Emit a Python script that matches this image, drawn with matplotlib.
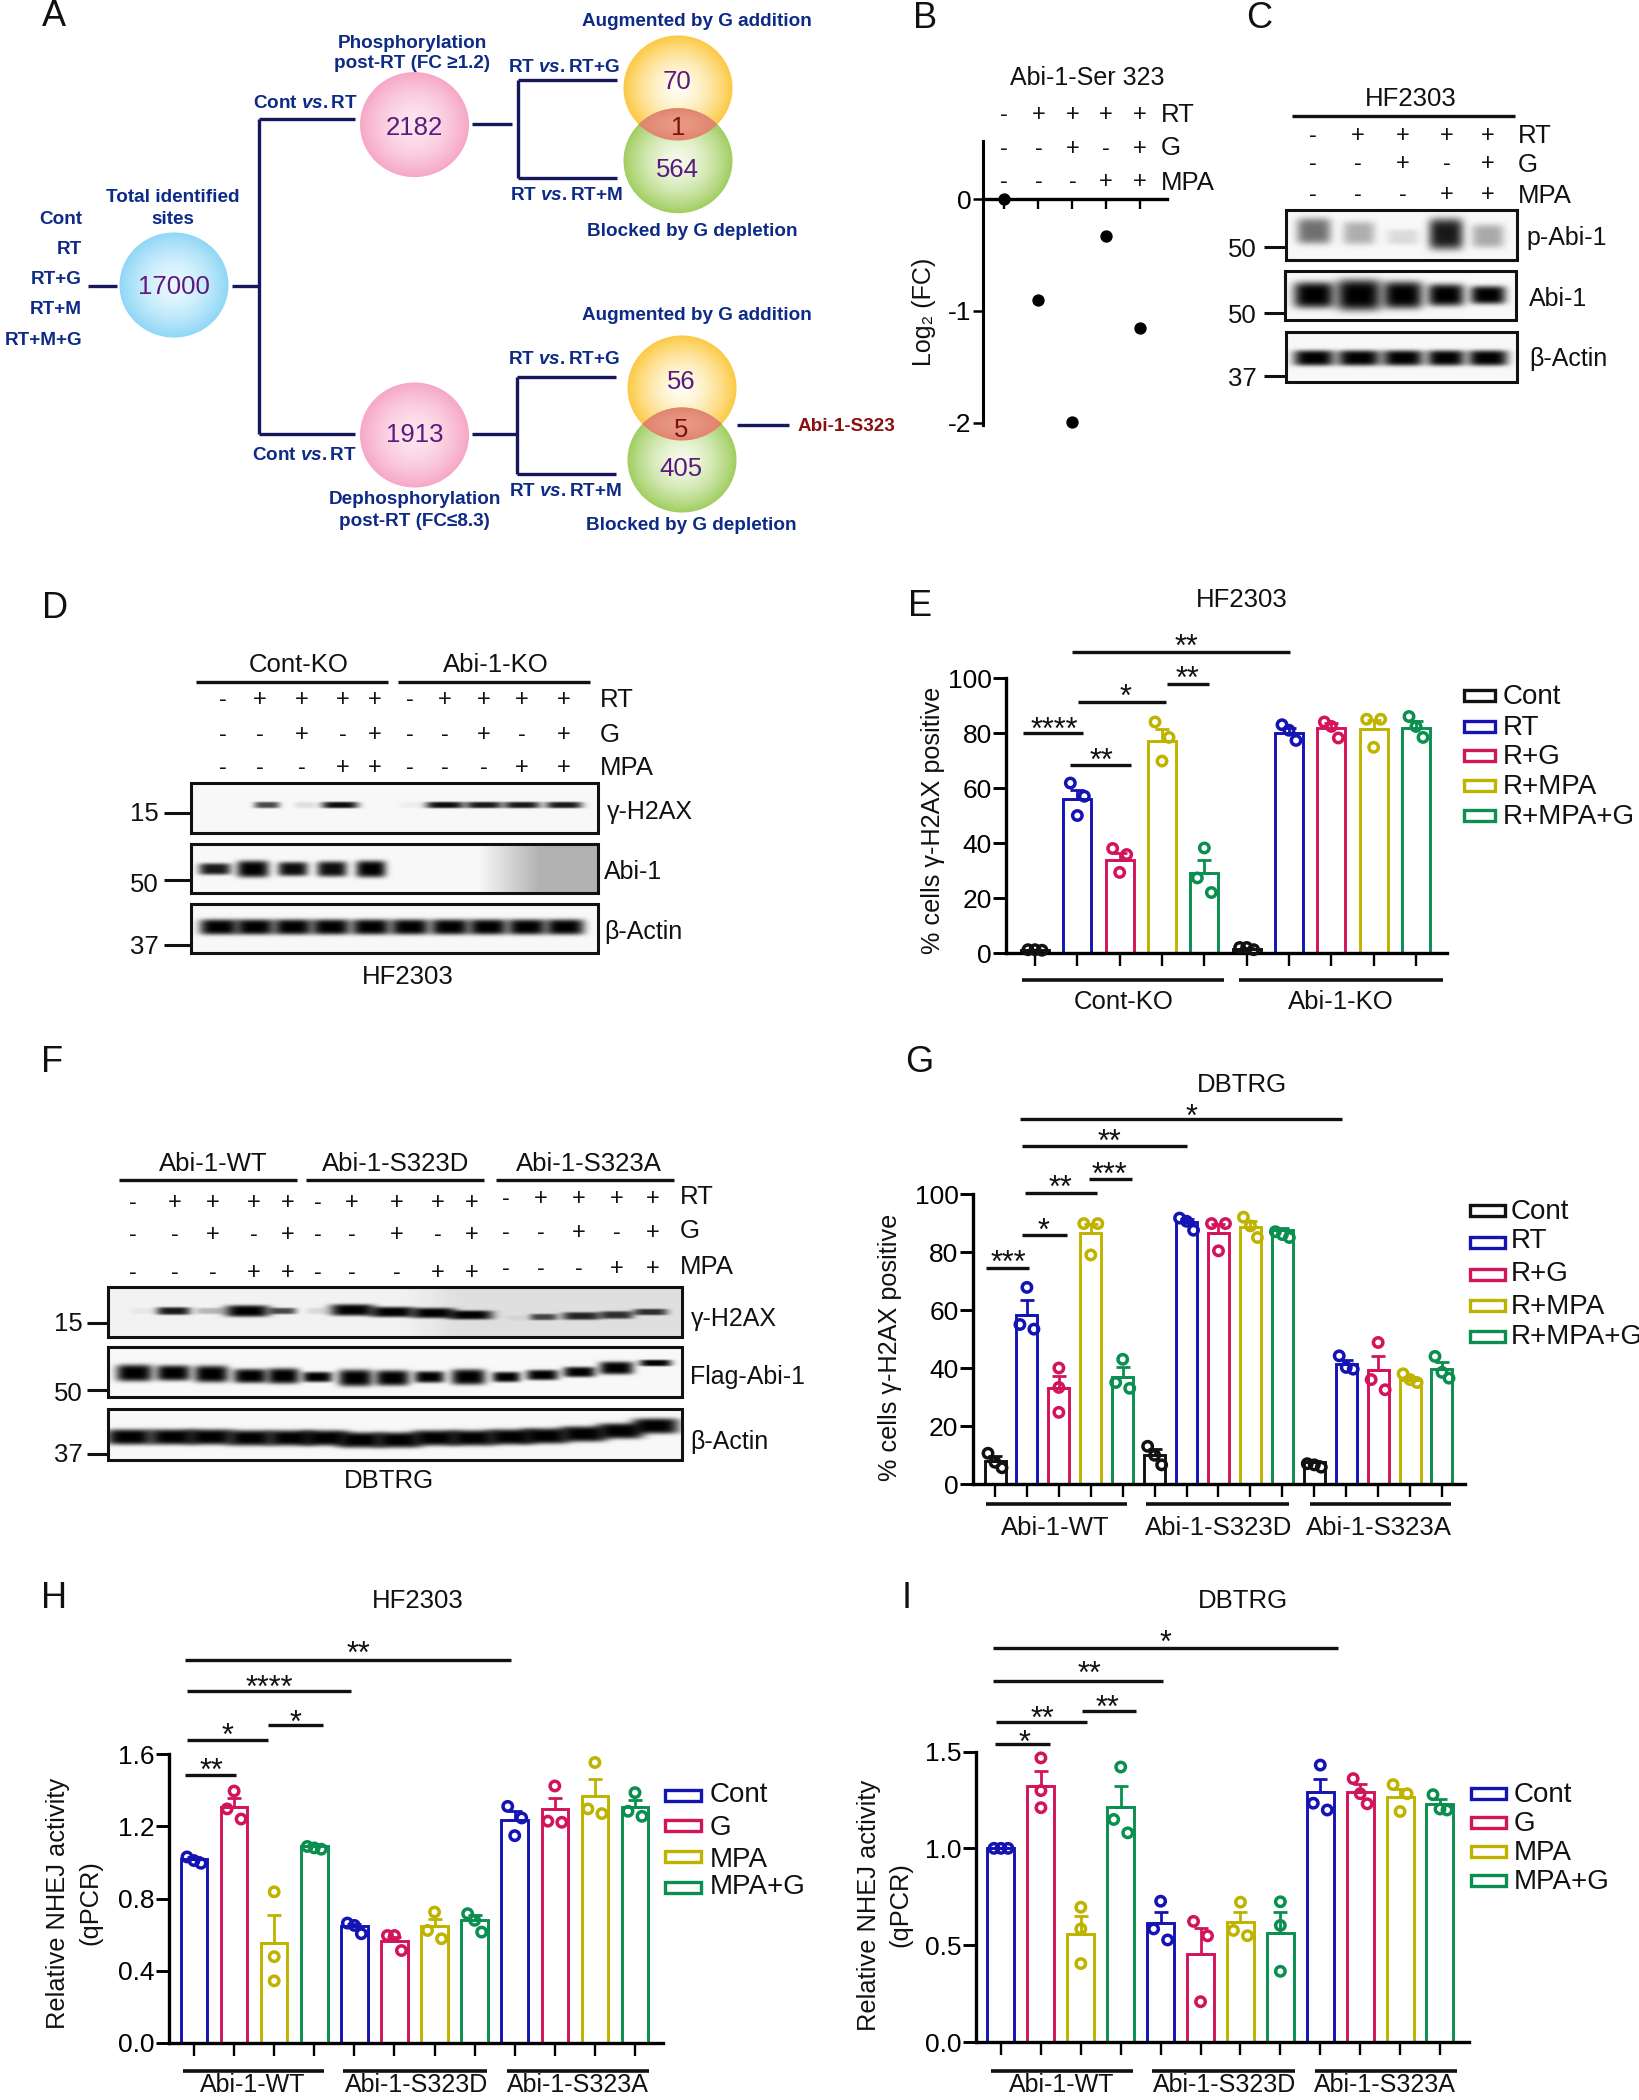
#!/usr/bin/env python
import matplotlib
matplotlib.use("Agg")
import matplotlib.pyplot as plt
import numpy as np
from matplotlib import font_manager
from matplotlib.colors import to_rgb
from matplotlib.patches import Rectangle

W, H = 1639, 2100

names = {f.name for f in font_manager.fontManager.ttflist}
NARROW = "Liberation Sans Narrow" if "Liberation Sans Narrow" in names else "Liberation Sans"

plt.rcParams["font.family"] = ["Liberation Sans", "DejaVu Sans"]
plt.rcParams["mathtext.fontset"] = "custom"
plt.rcParams["mathtext.it"] = f"{NARROW}:italic:bold"
plt.rcParams["mathtext.rm"] = f"{NARROW}:bold"

BLACK = "#111111"
BLUE = "#1414b4"
RED = "#d2145a"
OLIVE = "#bfb300"
GREEN = "#0a8f50"
NAVY = "#0d2a86"
PURPLE = "#5b1a80"
LINE = "#17175c"

# panel B
b_values = [0, -0.90, -1.99, -0.33, -1.15]

# treatment signs
rt_flags = [0, 1, 1, 1, 1]
g_flags = [0, 0, 1, 0, 1]
mpa_flags = [0, 0, 0, 1, 1]

# panel E
e_labels = ["Cont", "RT", "R+G", "R+MPA", "R+MPA+G"]
e_means = [1, 56, 34, 77, 29, 1.5, 80, 82, 81.5, 82]
e_sems = [0.2, 3.4, 2.5, 4.5, 5, 0.3, 1.7, 1.7, 3.3, 2.4]
e_points = [
    [1.2, 1.2, 1.0], [61.8, 57, 50], [38, 35.8, 29.3], [84, 78.4, 69.8], [38.2, 27.3, 22],
    [2, 2, 1.2], [83, 81, 77.3], [84, 82.4, 78.2], [85, 85, 74.8], [86, 82.4, 78.4],
]

# panel G
g_means = [8, 58.4, 33, 86.6, 37, 9.9, 90.3, 86.6, 88.7, 87.7, 7.5, 41.4, 39.2, 36, 39.6]
g_sems = [1.5, 5, 4.4, 3, 3.2, 2, 1, 3, 2, 0.6, 0.4, 1.4, 4.8, 0.8, 2.4]
g_points = [
    [10.6, 7.5, 5.6], [67.8, 55, 53.4], [40, 33.3, 24.7], [89.8, 89.8, 79], [43, 35, 33],
    [13, 9.9, 6.6], [91.7, 90.6, 87.5], [89.8, 89.8, 80.4], [92, 89, 85], [87, 86, 85],
    [7, 6.6, 5.8], [44.2, 40.2, 39.6], [48.8, 36, 32.5], [38, 36, 35], [44, 38.5, 36.5],
]

# panel H
nhej_labels = ["Cont", "G", "MPA", "MPA+G"]
h_means = [1.017, 1.308, 0.552, 1.088, 0.645, 0.567, 0.645, 0.679, 1.233, 1.293, 1.367, 1.308]
h_sems = [0.01, 0.05, 0.155, 0.01, 0.015, 0.02, 0.043, 0.03, 0.05, 0.065, 0.097, 0.04]
h_points = [
    [1.03, 1.01, 0.995], [1.395, 1.296, 1.24], [0.837, 0.478, 0.344], [1.088, 1.08, 1.073],
    [0.664, 0.651, 0.605], [0.595, 0.595, 0.512], [0.725, 0.623, 0.577], [0.716, 0.679, 0.614],
    [1.31, 1.246, 1.148], [1.423, 1.228, 1.222], [1.553, 1.296, 1.27], [1.386, 1.283, 1.255],
]

# panel I
i_means = [1.0, 1.324, 0.556, 1.212, 0.614, 0.455, 0.619, 0.565, 1.29, 1.29, 1.264, 1.23]
i_sems = [0.003, 0.075, 0.093, 0.108, 0.057, 0.133, 0.052, 0.106, 0.07, 0.04, 0.04, 0.027]
i_points = [
    [1.0, 1.0, 1.0], [1.467, 1.298, 1.21], [0.696, 0.584, 0.405], [1.42, 1.149, 1.08],
    [0.727, 0.584, 0.527], [0.623, 0.548, 0.208], [0.722, 0.576, 0.549], [0.724, 0.602, 0.365],
    [1.43, 1.233, 1.198], [1.36, 1.282, 1.23], [1.329, 1.282, 1.19], [1.277, 1.203, 1.198],
]

fig = plt.figure(figsize=(W / 100, H / 100), dpi=100, facecolor="white")
ov = fig.add_axes([0, 0, 1, 1], zorder=5)
ov.patch.set_visible(False)
ov.axis("off")


def txt(x, y, s, size=18, color=BLACK, ha="center", va="center", **kw):
    # page text sat a touch high against the reference
    if va == "center":
        y = y + 2
    return ov.text(x, y, s, fontsize=size, color=color, ha=ha, va=va, **kw)


def seg(x0, y0, x1, y1, lw=2.4, color=BLACK):
    ov.plot([x0, x1], [y0, y1], color=color, lw=lw, solid_capstyle="butt", solid_joinstyle="miter")


def star(x, y, s):
    txt(x, y + 18, s, size=22, va="baseline")


def sig_bars(rows):
    for x0, x1, y, sx, sy, s in rows:
        seg(x0, y, x1, y)
        star(sx, sy, s)


def signs(xs, ys, labels, label_x, label_ys, size=17):
    for flags, y in zip((rt_flags, g_flags, mpa_flags), ys):
        for f, x in zip(flags, xs):
            txt(x, y, "+" if f else "-", size=size)
    for lab, y in zip(labels, label_ys):
        txt(label_x, y, lab, size=18.5, ha="left")


def swarm(vals, ymax, px_h, sp, thr=16, spread=7):
    # spread points that sit close to each other, the way prism does it
    order = np.argsort(vals)[::-1]
    sorted_vals = np.asarray(vals)[order]
    out = np.zeros(len(vals))
    groups = [[0]]
    for k in range(1, len(vals)):
        if (sorted_vals[k - 1] - sorted_vals[k]) / ymax * px_h < thr:
            groups[-1].append(k)
        else:
            groups.append([k])
    for g in groups:
        if len(g) > 1:
            for j, k in enumerate(g):
                out[order[k]] = (-1 + 2 * j / (len(g) - 1)) * spread / sp
    return out


def bar_panel(box, first, last, barw, means, sems, points, colors, ymax, yticks, ticklabels):
    left, right, top, bottom = box
    ax = fig.add_axes([left / W, 1 - bottom / H, (right - left) / W, (bottom - top) / H])
    n = len(means)
    sp = (last - first) / (n - 1)
    xs = np.arange(n)
    ax.bar(xs, means, width=barw / sp, facecolor="white", edgecolor=colors, lw=2.1)
    for i in range(n):
        ax.errorbar(i, means[i], yerr=[[0], [sems[i]]], color=colors[i], lw=2.0, capsize=5, capthick=2.0)
        off = swarm(points[i], ymax, bottom - top, sp)
        ax.scatter(i + off, points[i], s=46, facecolors="none", edgecolors=colors[i], lw=2.5, zorder=4, clip_on=False)
    ax.set_xlim((left - first) / sp, (right - first) / sp)
    ax.set_ylim(0, ymax)
    ax.set_xticks(xs)
    ax.set_xticklabels([])
    ax.set_yticks(yticks)
    ax.set_yticklabels(ticklabels, fontsize=19)
    ax.tick_params(axis="y", length=9.5, width=2.1, pad=1)
    ax.tick_params(axis="x", length=9.5, width=1.7)
    for s in ("top", "right"):
        ax.spines[s].set_visible(False)
    for s in ("left", "bottom"):
        ax.spines[s].set_linewidth(2.4)
    ax.patch.set_visible(False)
    return ax


def legend(labels, colors, x0, x1, ys, text_x, text_ys=None):
    text_ys = ys if text_ys is None else text_ys
    for lab, c, y, ty in zip(labels, colors, ys, text_ys):
        ov.add_patch(Rectangle((x0, y - 5.5), x1 - x0, 11, fc="white", ec=c, lw=2.4))
        txt(text_x, ty, lab, size=20, ha="left")


def disc(cx, cy, rx, ry, edge, centre, other=None):
    # radial gradient, other=(cx, cy) keeps only the overlap with a second disc
    x0, x1 = int(cx - rx - 2), int(cx + rx + 3)
    y0, y1 = int(cy - ry - 2), int(cy + ry + 3)
    X, Y = np.meshgrid(np.arange(x0, x1) + 0.5, np.arange(y0, y1) + 0.5)
    r = np.hypot((X - cx) / rx, (Y - cy) / ry)
    alpha = np.clip((1 - r) * rx, 0, 1)
    if other is not None:
        r2 = np.hypot((X - other[0]) / rx, (Y - other[1]) / ry)
        alpha = alpha * np.clip((1 - r2) * rx, 0, 1)
        mx, my = (cx + other[0]) / 2, (cy + other[1]) / 2
        r = np.hypot((X - mx) / rx, (Y - my) / (ry * 0.45))
    t = np.clip(r, 0, 1)[..., None] ** 1.6
    rgb = np.array(to_rgb(centre)) * (1 - t) + np.array(to_rgb(edge)) * t
    ov.imshow(np.dstack([rgb, alpha]), extent=(x0, x1, y1, y0), aspect="auto", interpolation="bilinear", zorder=2)


def blot(box, xs, ys, widths, heights, inks, base=0.97, shade=None):
    x0, x1, y0, y1 = box
    X, Y = np.meshgrid(np.arange(x0, x1) + 0.5, np.arange(y0, y1) + 0.5)
    clear = np.ones_like(X, dtype=float)
    for cx, cy, w, h, ink in zip(*np.broadcast_arrays(xs, ys, widths, heights, inks)):
        clear *= 1 - ink * np.exp(-np.abs((X - cx) / (0.54 * w)) ** 4 - np.abs((Y - cy) / (0.65 * h)) ** 4)
    img = base * clear
    if shade is not None:
        img = img * (1 - shade[1] * np.clip((X - shade[0]) / 60, 0, 1))
    ov.imshow(img, extent=(x0, x1, y1, y0), cmap="gray", vmin=0, vmax=1, aspect="auto", interpolation="bilinear", zorder=1)
    ov.add_patch(Rectangle((x0, y0), x1 - x0, y1 - y0, fc="none", ec=BLACK, lw=2.2, zorder=3))


def marker(label, x_text, x0, x1, y_text, y):
    txt(x_text, y_text, label, size=18.5, ha="right")
    seg(x0, y, x1, y, lw=2.2)


# ---- panel letters
for s, x, y in [("A", 54, 14), ("B", 925, 16), ("C", 1259, 16), ("D", 55, 606), ("E", 920, 605),
                ("F", 52, 1060), ("G", 919, 1060), ("H", 54, 1597), ("I", 907, 1597)]:
    txt(x, y, s, size=26)

# ---- panel A
bold = dict(family=[NARROW, "Liberation Sans"], fontweight="bold")


def a_text(x, y, s, color=NAVY, size=13.6, ha="center"):
    txt(x, y, s, size=size, color=color, ha=ha, **bold)


disc(174, 285, 55, 53, "#8ed6f6", "#e8f8ff")
disc(414.5, 124.6, 55, 53, "#f6a6c6", "#fde6ef")
disc(414.5, 435, 55, 53, "#f6a6c6", "#fde6ef")
for cy1, cy2, cx in [(88, 160.7, 678), (388, 460, 682)]:
    disc(cx, cy1, 55, 53, "#fcc840", "#fffdf0")
    disc(cx, cy2, 55, 53, "#9fcd5e", "#f4fae8")
    disc(cx, cy1, 55, 53, "#dc6e5c", "#e89a84", other=(cx, cy2))

a_text(173, 195, "Total identified")
a_text(173, 217, "sites")
for s, y in zip(["Cont", "RT", "RT+G", "RT+M", "RT+M+G"], [217.5, 247, 278, 308, 338.5]):
    a_text(82, y, s, ha="right")
a_text(412, 42, "Phosphorylation")
a_text(412, 61, "post-RT (FC ≥1.2)")
a_text(414.5, 498, "Dephosphorylation")
a_text(414.5, 520, "post-RT (FC≤8.3)")
for x, y in [(305, 102), (304, 454)]:
    a_text(x, y, r"Cont $\mathit{vs.}$RT")
for x, y, s in [(564, 66, "RT+G"), (566, 194, "RT+M"), (564, 358, "RT+G"), (565, 489, "RT+M")]:
    a_text(x, y, r"RT $\mathit{vs.}$" + s)
for x, y in [(697, 20), (697, 313)]:
    a_text(x, y, "Augmented by G addition")
for x, y in [(692.6, 229), (691, 524)]:
    a_text(x, y, "Blocked by G depletion")
a_text(846, 424.5, "Abi-1-S323", color="#8a1010")
num = dict(size=18.5, zorder=6, family=[NARROW, "Liberation Sans"])
for x, y, s in [(174, 285, "17000"), (414.5, 126, "2182"), (414.5, 433, "1913"), (677, 80, "70"),
                (677, 168, "564"), (681, 380, "56"), (681, 467, "405")]:
    txt(x, y, s, color=PURPLE, **num)
txt(678, 126, "1", color="#7a1010", **num)
txt(681, 428, "5", color="#7a1010", **num)

for a in [(88, 286, 117, 286), (232, 286, 259, 286), (259, 119, 259, 434), (259, 119, 355, 119),
          (259, 434, 355, 434), (472, 123.5, 512, 123.5), (518, 80, 518, 178), (518, 80, 617, 80),
          (518, 178, 617, 178), (472, 434, 517, 434), (517, 376.5, 517, 474), (517, 376.5, 616, 376.5),
          (517, 474, 616, 474), (737, 425, 789, 425)]:
    seg(*a, lw=2.4, color=LINE)

# ---- panel B
ax = fig.add_axes([982.5 / W, 1 - 425 / H, 184 / W, 284 / H])
ax.scatter(range(5), b_values, s=62, color="black", clip_on=False, zorder=4)
ax.set_xlim((982.5 - 1004) / 34, (1166.5 - 1004) / 34)
ax.set_ylim(-2.018, 0.518)
ax.set_yticks([0, -1, -2])
ax.set_yticklabels(["0", "-1", "-2"], fontsize=19)
ax.set_xticks(range(5))
ax.set_xticklabels([])
ax.spines["bottom"].set_position(("data", 0))
ax.spines["bottom"].set_linewidth(2.4)
ax.spines["left"].set_linewidth(2.2)
for s in ("top", "right"):
    ax.spines[s].set_visible(False)
ax.tick_params(axis="x", length=7, width=1.7)
ax.tick_params(axis="y", length=7, width=1.8, pad=1)
ax.patch.set_visible(False)
txt(924.5, 310, "Log₂ (FC)", size=18, rotation=90)
txt(1087, 76, "Abi-1-Ser 323", size=18)
signs([1004, 1038.5, 1073, 1106, 1140], [113, 147, 180], ["RT", "G", "MPA"], 1161, [113, 146, 181])

# ---- panel C
txt(1411, 97, "HF2303", size=18.5)
seg(1291.5, 116, 1515, 116)
signs([1313, 1358, 1403, 1447, 1488], [134, 162, 193], ["RT", "G", "MPA"], 1518, [134, 163, 194])
c_x = [1314, 1359, 1403, 1446, 1488]
blot((1286, 1517, 210, 260), c_x, [231, 233, 237, 234, 236], [32, 30, 30, 32, 30], [20, 18, 12, 24, 18],
     [0.55, 0.3, 0.12, 0.9, 0.32])
blot((1285, 1516, 271, 320), c_x, 295, [38, 42, 37, 34, 33], [20, 24, 21, 17, 14], 1.0)
blot((1286, 1517, 332, 382), c_x, 358, [38, 40, 38, 35, 37], 12, 1.0)
for s, x, y in [("p-Abi-1", 1526, 236), ("Abi-1", 1529, 297), ("β-Actin", 1529, 357)]:
    txt(x, y, s, size=18, ha="left")
marker("50", 1256.5, 1264, 1285, 248, 247)
marker("50", 1256.5, 1264, 1285, 314, 313)
marker("37", 1256.5, 1264, 1285, 377, 376)

# ---- panel D
txt(299, 663, "Cont-KO", size=18.5)
txt(496, 663, "Abi-1-KO", size=18.5)
seg(196, 682, 388, 682)
seg(398, 682, 590, 682)
d_cols = [223, 260, 302, 343, 375, 410, 445, 484, 522, 564]
for ys, lab, flags in [(698, "RT", rt_flags * 2), (733, "G", g_flags * 2), (766, "MPA", mpa_flags * 2)]:
    for f, x in zip(flags, d_cols):
        txt(x, ys, "+" if f else "-", size=17)
    txt(600, ys, lab, size=18.5, ha="left")
blot((191, 598, 783, 833), [267, 305, 340, 410, 445, 484, 522, 564], 805, [24, 20, 34, 20, 36, 34, 34, 34], 5,
     [0.7, 0.1, 0.95, 0.04, 0.95, 0.9, 0.9, 0.9])
blot((191, 598, 844, 893), [215, 253, 293, 332, 371], 869, [30, 30, 28, 28, 28], [9, 13, 11, 12, 13],
     [0.9, 1, 0.95, 0.95, 1], shade=(479, 0.28))
blot((191, 598, 904, 953), [219, 255, 293, 331, 371, 410, 450, 488, 527, 565], 927, 36, 12, 1.0)
for s, x, y in [("γ-H2AX", 607, 810), ("Abi-1", 604, 870), ("β-Actin", 604.5, 930)]:
    txt(x, y, s, size=18, ha="left")
marker("15", 159, 164, 191, 812, 813)
marker("50", 159, 164, 191, 883, 880)
marker("37", 159, 164, 191, 945, 945)
txt(408, 975, "HF2303", size=18.5)

# ---- panel E
e_colors = [BLACK, BLUE, RED, OLIVE, GREEN] * 2
bar_panel((1006.5, 1447, 678, 953), 1035, 1416, 28, e_means, e_sems, e_points, e_colors, 100,
          [0, 20, 40, 60, 80, 100], ["0", "20", "40", "60", "80", "100"])
txt(1242, 598, "HF2303", size=18.5)
txt(933, 818, "% cells γ-H2AX positive", size=18.2, rotation=90)
sig_bars([(1072, 1290, 652, 1186, 638, "**"), (1167, 1209, 684, 1187, 670, "**"), (1078, 1166, 702, 1125, 688, "*"),
          (1023, 1083, 733, 1054, 721, "****"), (1070, 1131, 765, 1101, 752, "**")])
seg(1022, 980, 1224, 980, lw=2.6)
seg(1239, 980, 1443, 980, lw=2.6)
txt(1124, 1000, "Cont-KO", size=18.5)
txt(1341, 1000, "Abi-1-KO", size=18.5)
legend(e_labels, e_colors, 1463.5, 1495, [695, 726, 755, 785, 815], 1503)

# ---- panel F
f_cols = [133, 175, 213, 254, 288, 318, 352, 397, 438, 471.5, 506, 541, 579, 617, 653]
for row, lab, y_wt, y_a, flags in [(0, "RT", 1200.7, 1197, rt_flags * 3), (1, "G", 1233, 1231, g_flags * 3),
                                   (2, "MPA", 1271, 1267, mpa_flags * 3)]:
    for k, (f, x) in enumerate(zip(flags, f_cols)):
        txt(x, y_a if k >= 10 else y_wt, "+" if f else "-", size=17)
    txt(680, y_a - 2, lab, size=18.5, ha="left")
for x0, x1, xt, s in [(119, 297, 213, "Abi-1-WT"), (306, 484, 396, "Abi-1-S323D"), (496, 674, 589, "Abi-1-S323A")]:
    seg(x0, 1180, x1, 1180)
    txt(xt, 1162, s, size=18.5)
blot((107.5, 682, 1287, 1337),
     [141, 173, 210, 247, 282, 317, 352, 392, 433, 470, 516, 543, 581, 616, 650],
     [1311, 1311, 1311, 1311, 1311, 1311, 1310, 1312, 1313, 1315, 1318, 1317, 1316, 1315, 1312],
     [20, 32, 28, 42, 26, 20, 42, 42, 42, 42, 20, 26, 36, 32, 32],
     [5, 6, 5, 9, 5, 5, 9, 8, 8, 7, 4, 5, 6, 6, 5],
     [0.05, 0.9, 0.25, 1, 0.7, 0.1, 1, 1, 1, 1, 0.05, 0.7, 0.85, 0.8, 0.8], base=0.95, shade=(400, 0.08))
blot((107.5, 682, 1347, 1397),
     [134, 173, 211, 250, 283, 317, 355, 392, 429, 468, 506, 542, 579, 616, 655],
     [1373, 1373, 1374, 1376, 1376, 1377, 1378, 1378, 1377, 1377, 1377, 1375, 1372, 1368, 1363],
     [34, 32, 32, 32, 30, 28, 32, 32, 28, 32, 26, 30, 30, 32, 30],
     [13, 12, 13, 11, 12, 8, 13, 12, 9, 12, 8, 8, 8, 10, 5], 1.0)
blot((107.5, 682, 1409, 1460),
     [129, 172, 210, 250, 290, 325, 360, 398, 435, 472, 510, 545, 583, 620, 655],
     [1437, 1437, 1437, 1438, 1438, 1438, 1440, 1440, 1438, 1438, 1437, 1436, 1434, 1431, 1426],
     44, 12, 1.0)
for s, x, y in [("γ-H2AX", 691, 1317), ("Flag-Abi-1", 690, 1375), ("β-Actin", 690, 1440)]:
    txt(x, y, s, size=18, ha="left")
marker("15", 83, 87, 107.5, 1322, 1323)
marker("50", 83, 87, 107.5, 1392, 1390)
marker("37", 83, 87, 107.5, 1453, 1454)
txt(389, 1479, "DBTRG", size=18.5)

# ---- panel G
bar_panel((973, 1465, 1194, 1484), 995, 1442, 21, g_means, g_sems, g_points, [BLACK, BLUE, RED, OLIVE, GREEN] * 3, 100,
          [0, 20, 40, 60, 80, 100], ["0", "20", "40", "60", "80", "100"])
txt(1242, 1083, "DBTRG", size=18.5)
txt(890, 1345, "% cells γ-H2AX positive", size=18.2, rotation=90)
sig_bars([(1020, 1342, 1119, 1192, 1108, "*"), (1021.5, 1186.5, 1146, 1109, 1133, "**"), (1088.6, 1132, 1179, 1109, 1166, "***"),
          (1025, 1097, 1192.6, 1060, 1179, "**"), (1021.5, 1067, 1234.7, 1044, 1222, "*"), (986, 1029, 1268, 1008, 1254, "***")])
for x0, x1, xt, s in [(986, 1127, 1055, "Abi-1-WT"), (1146, 1289, 1219, "Abi-1-S323D"), (1310, 1451, 1379, "Abi-1-S323A")]:
    seg(x0, 1504, x1, 1504, lw=2.6)
    txt(xt, 1526, s, size=18.5)
legend(e_labels, [BLACK, BLUE, RED, OLIVE, GREEN], 1470, 1504.6, [1210, 1242, 1274, 1305, 1336], 1511,
       [1210, 1239, 1272, 1305, 1335])

# ---- panel H
nhej_colors = [BLUE, RED, OLIVE, GREEN]
bar_panel((169, 663, 1754, 2043), 194, 635, 26.5, h_means, h_sems, h_points, nhej_colors * 3, 1.6,
          [0, 0.4, 0.8, 1.2, 1.6], ["0.0", "0.4", "0.8", "1.2", "1.6"])
txt(418, 1599, "HF2303", size=18.5)
txt(58, 1901, "Relative NHEJ activity", size=18.3, rotation=90)
txt(90, 1901, "(qPCR)", size=18.3, rotation=90)
sig_bars([(185, 511, 1659.6, 358, 1645, "**"), (187, 350.5, 1691, 269, 1679, "****"), (267.7, 323, 1725, 295, 1714, "*"),
          (187, 268, 1740, 227, 1727, "*"), (185, 236, 1774.5, 211, 1762, "**")])
# reference clips these at the page edge, keep them just inside
for x0, x1, xt, s in [(183, 324, 253, "Abi-1-WT"), (343, 487, 417, "Abi-1-S323D"), (507, 649, 578, "Abi-1-S323A")]:
    seg(x0, 2071, x1, 2071, lw=2.6)
    txt(xt, 2083, s, size=18)
legend(nhej_labels, nhej_colors, 665, 701, [1795, 1825, 1856, 1887], 710, [1793, 1826, 1858, 1885])

# ---- panel I
bar_panel((976, 1469, 1751.5, 2042), 1001, 1440, 27, i_means, i_sems, i_points, nhej_colors * 3, 1.5,
          [0, 0.5, 1.0, 1.5], ["0.0", "0.5", "1.0", "1.5"])
txt(1243, 1599, "DBTRG", size=18.5)
txt(869, 1903, "Relative NHEJ activity", size=18.3, rotation=90)
txt(900, 1903, "(qPCR)", size=18.3, rotation=90)
sig_bars([(993, 1337.7, 1648, 1166, 1633.5, "*"), (993, 1163, 1680.5, 1089, 1664.7, "**"), (1082, 1136, 1711, 1107.6, 1698.5, "**"),
          (996, 1086.5, 1722, 1042.6, 1710, "**"), (994.6, 1050, 1744, 1024.5, 1733.6, "*")])
for x0, x1, xt, s in [(991, 1133, 1062, "Abi-1-WT"), (1151.5, 1295, 1225, "Abi-1-S323D"), (1315, 1457, 1385, "Abi-1-S323A")]:
    seg(x0, 2071, x1, 2071, lw=2.6)
    txt(xt, 2083, s, size=18)
legend(nhej_labels, nhej_colors, 1471, 1506, [1793, 1822, 1851, 1880], 1514)

ov.set_xlim(0, W)
ov.set_ylim(H, 0)

fig.savefig("out.png", dpi=100)
